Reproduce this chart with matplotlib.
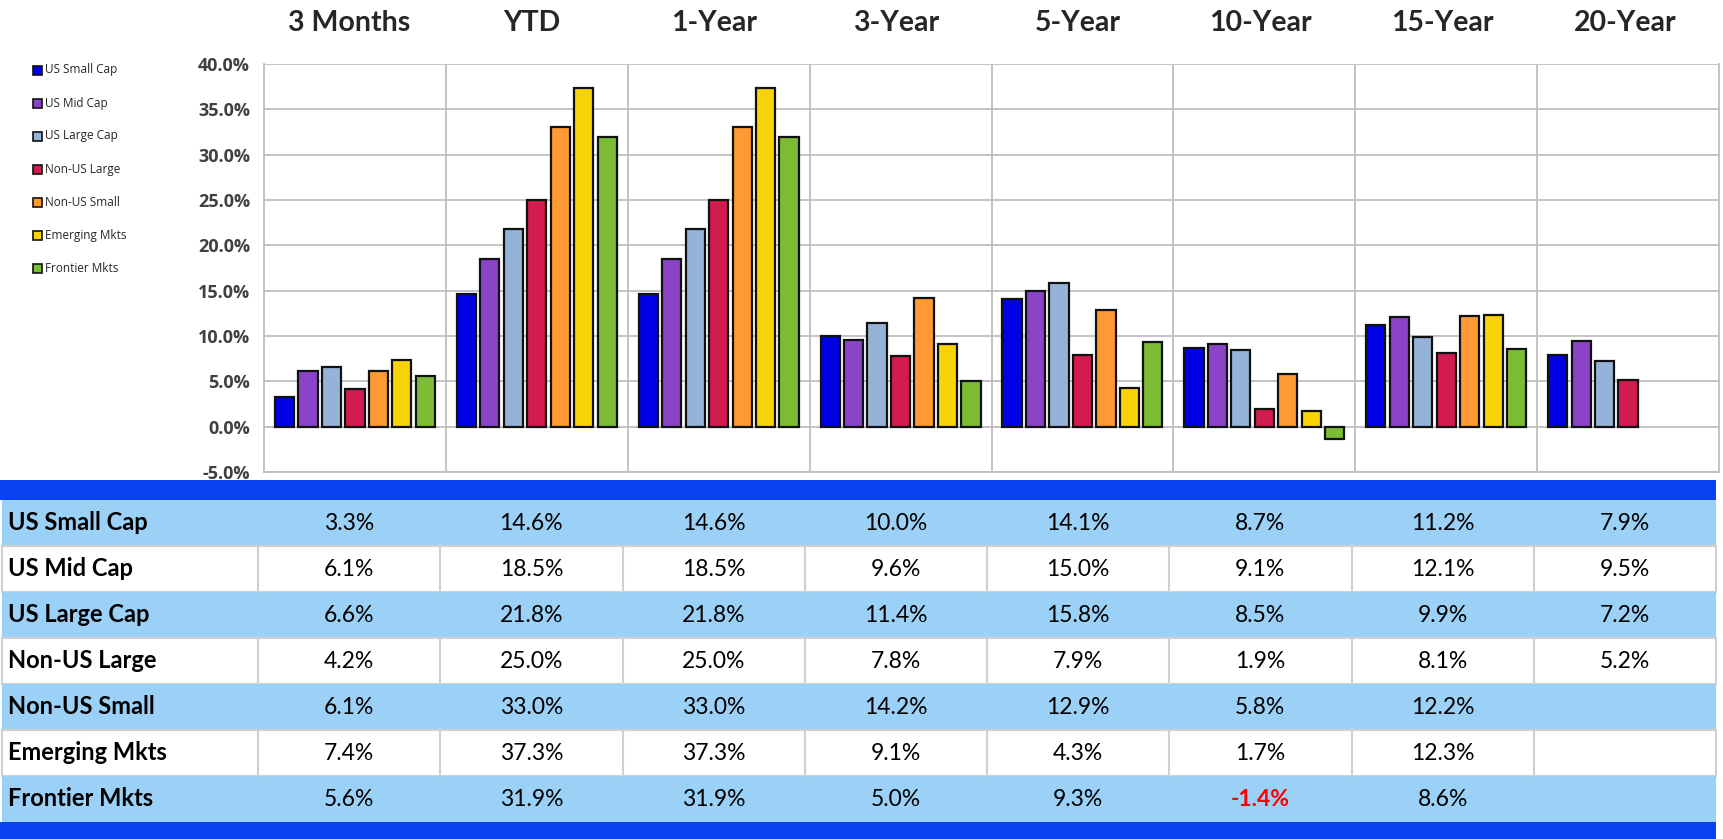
import matplotlib
matplotlib.use("Agg")
import matplotlib.pyplot as plt
import numpy as np
from matplotlib.patches import Rectangle

periods = ["3 Months", "YTD", "1-Year", "3-Year", "5-Year", "10-Year", "15-Year", "20-Year"]
series = ["US Small Cap", "US Mid Cap", "US Large Cap", "Non-US Large",
          "Non-US Small", "Emerging Mkts", "Frontier Mkts"]
us_small = [3.3, 14.6, 14.6, 10.0, 14.1, 8.7, 11.2, 7.9]
us_mid = [6.1, 18.5, 18.5, 9.6, 15.0, 9.1, 12.1, 9.5]
us_large = [6.6, 21.8, 21.8, 11.4, 15.8, 8.5, 9.9, 7.2]
nonus_large = [4.2, 25.0, 25.0, 7.8, 7.9, 1.9, 8.1, 5.2]
nonus_small = [6.1, 33.0, 33.0, 14.2, 12.9, 5.8, 12.2, None]
emerging = [7.4, 37.3, 37.3, 9.1, 4.3, 1.7, 12.3, None]
frontier = [5.6, 31.9, 31.9, 5.0, 9.3, -1.4, 8.6, None]
values = [us_small, us_mid, us_large, nonus_large, nonus_small, emerging, frontier]
colors = ["#0000E6", "#8B44C8", "#95B3D7", "#D21B4E", "#FF9933", "#F7D308", "#7CBB34"]
yticks = [-5, 0, 5, 10, 15, 20, 25, 30, 35, 40]

W, H = 1723, 839
fig = plt.figure(figsize=(W / 100, H / 100), dpi=100)
FONT = ["Lato", "DejaVu Sans"]

# ---- chart axes ----
ax_left, ax_right, ax_top, ax_bot = 264, 1719, 64, 472
ax = fig.add_axes([ax_left / W, 1 - ax_bot / H, (ax_right - ax_left) / W, (ax_bot - ax_top) / H])
n = len(periods)
slot = 1 / 7.75
bw = slot * 0.82
for si, (vals, c) in enumerate(zip(values, colors)):
    xs, hs = [], []
    for pi, v in enumerate(vals):
        if v is None:
            continue
        xs.append(pi + 0.5 + (si - 3) * slot)
        hs.append(v)
    ax.bar(np.array(xs), hs, width=bw, color=c, edgecolor="#111111", linewidth=1.6,
           zorder=3, label=series[si])
ax.set_xlim(0, n)
ax.set_ylim(-5, 40)
ax.set_yticks(yticks)
ax.set_yticklabels([f"{t:.1f}%" for t in yticks], fontsize=13, fontweight="bold",
                   color="#404040", family=["Open Sans", "DejaVu Sans"])
ax.tick_params(axis="y", length=0, pad=10)
ax.set_xticks([])
for t in yticks:
    ax.axhline(t, color="#BFBFBF", lw=1.3, zorder=1)
for i in range(1, n):
    ax.axvline(i, color="#BFBFBF", lw=1.3, zorder=1)
for s in ax.spines.values():
    s.set_color("#BFBFBF")
    s.set_linewidth(1.3)
ax.spines["top"].set_visible(False)

# ---- overlay for table/legend/headers ----
ov2 = fig.add_axes([0, 0, 1, 1], zorder=5)
ov2.set_xlim(0, W)
ov2.set_ylim(H, 0)
ov2.axis("off")
ov2.patch.set_alpha(0)

# table geometry
tab_left, tab_right = 0, 1716
col0_right = 258
col_w = (tab_right - col0_right) / n

for i, p in enumerate(periods):
    ov2.text(col0_right + (i + 0.5) * col_w, 23, p, ha="center", va="center", fontsize=20.5,
             fontweight="bold", color="#262626", family=FONT)

# legend
for si, s in enumerate(series):
    y = 70 + si * 33
    ov2.add_patch(Rectangle((33, y - 4.5), 9, 9, facecolor=colors[si], edgecolor="#111111", lw=1.2))
    ov2.text(45, y, s, ha="left", va="center", fontsize=8.5, color="#262626",
             family=["Open Sans", "DejaVu Sans"])

band_top, band_h = 480, 20
row_h = 46
ov2.add_patch(Rectangle((tab_left, band_top), tab_right - tab_left, band_h, facecolor="#0A42F0", lw=0))
rows_top = band_top + band_h
for ri, s in enumerate(series):
    y0 = rows_top + ri * row_h
    if ri % 2 == 0:
        ov2.add_patch(Rectangle((tab_left + 2, y0), tab_right - tab_left - 2, row_h,
                                facecolor="#9BD1F7", lw=0))
    else:
        ov2.add_patch(Rectangle((tab_left + 2, y0), tab_right - tab_left - 2, row_h,
                                facecolor="white", edgecolor="#D0D0D0", lw=1.5))
        for ci in range(n):
            xx = col0_right + ci * col_w
            ov2.plot([xx, xx], [y0, y0 + row_h], color="#D0D0D0", lw=1.5)
    yc = y0 + row_h / 2
    ov2.text(8, yc, s, ha="left", va="center", fontsize=17, fontweight="bold",
             color="black", family=FONT)
    for ci, v in enumerate(values[ri]):
        if v is None:
            continue
        neg = v < 0
        ov2.text(col0_right + (ci + 0.5) * col_w, yc, f"{v:.1f}%", ha="center", va="center",
                 fontsize=16.5, fontweight="bold" if neg else "normal",
                 color="#FF0000" if neg else "black", family=FONT)
bot = rows_top + len(series) * row_h
ov2.add_patch(Rectangle((tab_left, bot), tab_right - tab_left, H - bot + 2, facecolor="#0A42F0", lw=0))

fig.savefig("out.png", dpi=100)
